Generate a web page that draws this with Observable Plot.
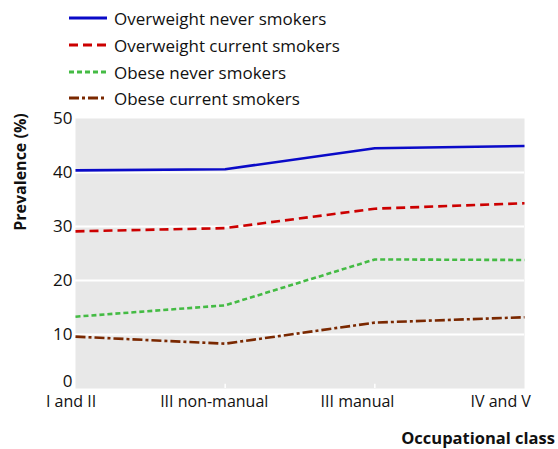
<!DOCTYPE html>
<html>
<head>
<meta charset="utf-8">
<script src="https://cdn.jsdelivr.net/npm/d3@7"></script>
<script src="https://cdn.jsdelivr.net/npm/@observablehq/plot@0.6"></script>
<style>
  html, body { margin: 0; padding: 0; background: #fff; }
  body { width: 558px; height: 449px; position: relative; overflow: hidden; font-family: "Open Sans", sans-serif; color: #111; }
  #legend { position: absolute; left: 0; top: 0; width: 558px; height: 100px; }
  .row { position: absolute; left: 69px; height: 20px; display: flex; align-items: center; font-size: 17px; white-space: nowrap; }
  .row svg { margin-right: 7px; }
  #chart { position: absolute; left: 0; top: 100px; }
  #ylab { position: absolute; left: 20px; top: 172px; transform: translate(-50%, -50%) rotate(-90deg); font-weight: bold; font-size: 16px; white-space: nowrap; }
  #xlab { position: absolute; right: 3px; top: 426px; font-weight: bold; font-size: 16.5px; white-space: nowrap; }
</style>
</head>
<body>
<div id="legend"></div>
<div id="chart"></div>
<div id="ylab">Prevalence (%)</div>
<div id="xlab">Occupational class</div>
<script>
// ---- data ----
const categories = ["I and II", "III non-manual", "III manual", "IV and V"];
const seriesNames = ["Overweight never smokers", "Overweight current smokers", "Obese never smokers", "Obese current smokers"];
const overweightNever = [40.4, 40.6, 44.5, 44.9];
const overweightCurrent = [29.1, 29.7, 33.3, 34.3];
const obeseNever = [13.3, 15.4, 23.9, 23.8];
const obeseCurrent = [9.6, 8.3, 12.2, 13.2];
const yTicks = [10, 20, 30, 40, 50];
const yZeroTick = [0];
const gridValues = [10, 20, 30, 40];

// ---- styles ----
const styles = [
  {stroke: "#0a0ac8", dash: null},
  {stroke: "#cc0000", dash: "9,5"},
  {stroke: "#44bb44", dash: "5,3"},
  {stroke: "#7a2800", dash: "10,3,3,3"}
];
const values = [overweightNever, overweightCurrent, obeseNever, obeseCurrent];

// legend
const legend = document.getElementById("legend");
const rowY = [18, 45, 72, 98];
seriesNames.forEach((name, i) => {
  const row = document.createElement("div");
  row.className = "row";
  row.style.top = (rowY[i] - 10) + "px";
  row.innerHTML = `<svg width="38" height="6"><line x1="0" x2="38" y1="3" y2="3" stroke="${styles[i].stroke}" stroke-width="3" ${styles[i].dash ? `stroke-dasharray="${styles[i].dash}"` : ""}/></svg><span>${name}</span>`;
  legend.appendChild(row);
});

// table
const table = [];
values.forEach((vals, s) => vals.forEach((v, i) => table.push({series: seriesNames[s], idx: i, category: categories[i], value: v})));

// axis label positions (the reference places category labels slightly left of the data points)
const labelPos = categories.map((c, i) => i * 0.957 - 0.03);

const lineMarks = seriesNames.map((name, s) =>
  Plot.lineY(table.filter(d => d.series === name), {
    x: "idx", y: "value",
    stroke: styles[s].stroke,
    strokeWidth: 2.6,
    strokeDasharray: styles[s].dash,
    strokeLinecap: "butt"
  })
);

const plot = Plot.plot({
  width: 558,
  height: 349,
  marginTop: 18,
  marginBottom: 61,
  marginLeft: 75,
  marginRight: 34,
  style: {fontFamily: "Open Sans, sans-serif", fontSize: "16px", color: "#111", background: "transparent", overflow: "visible"},
  x: {type: "linear", domain: [0, 3]},
  y: {domain: [0, 50]},
  marks: [
    Plot.frame({fill: "#e8e8e8", stroke: null}),
    Plot.ruleY(gridValues, {stroke: "white", strokeWidth: 2}),
    Plot.ruleX([1, 2], {y1: 0, y2: 0.8, stroke: "white", strokeWidth: 1.5}),
    Plot.axisY(yTicks, {tickSize: 0, tickPadding: 3, label: null, fontSize: 17}),
    Plot.axisY(yZeroTick, {tickSize: 0, tickPadding: 3, label: null, fontSize: 17, dy: -7}),
    Plot.axisX(labelPos, {tickSize: 0, tickPadding: 7, label: null, fontSize: 16,
      tickFormat: d => categories[labelPos.indexOf(d)]}),
    ...lineMarks
  ]
});
document.getElementById("chart").appendChild(plot);
</script>
</body>
</html>
